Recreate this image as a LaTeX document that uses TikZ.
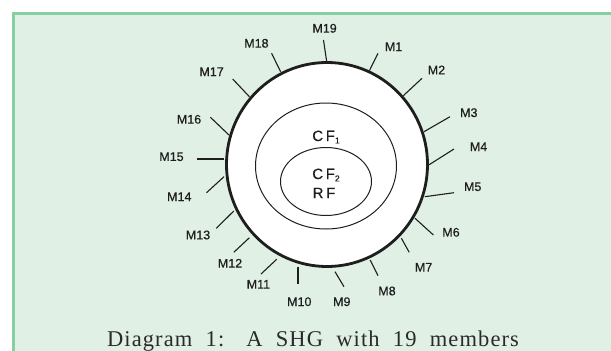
\documentclass[tikz,border=0pt]{standalone}
\usepackage{fontspec}
\setmainfont{Liberation Serif}
\setsansfont{Liberation Sans}
\usetikzlibrary{shapes.geometric}
\definecolor{bgreen}{HTML}{E0F0E5}
\definecolor{bborder}{HTML}{86CFA0}
\definecolor{ink}{HTML}{1E1E1E}
\definecolor{capink}{HTML}{2A2A2A}
\newcommand\sbs[1]{\raisebox{-0.3ex}{\fontsize{8.5}{8.5}\selectfont #1}}
\begin{document}
\begin{tikzpicture}[x=1pt,y=-1pt,
  lbl/.style={font=\sffamily\fontsize{12.5}{12.5}\selectfont\addfontfeature{FakeBold=0.5}, text=ink, inner sep=0pt},
  cftext/.style={font=\sffamily\fontsize{15}{15}\selectfont\addfontfeature{LetterSpace=18,FakeBold=0.5}, text=ink, inner sep=0pt},
  tickline/.style={line width=1.1pt, draw=ink},
  ring/.style={draw=ink, ellipse, inner sep=0pt, fill=white}]
\useasboundingbox (0,0) rectangle (611,351);
\fill[bgreen] (13,13) rectangle (612,352);
\draw[bborder, line width=2.6pt] (13.3,352) -- (13.3,13.3) -- (612,13.3);

\node[ring, line width=2.8pt, minimum width=201pt, minimum height=204pt] (outer) at (327,164.5) {};
\node[ring, line width=1pt, minimum width=141pt, minimum height=126pt] (mid) at (326,166) {};
\node[ring, line width=1pt, minimum width=91pt, minimum height=68pt] (inner) at (326,181.5) {};

\node[cftext] (cf1) at (326,137) {CF\sbs{1}};
\node[cftext] (cf2) at (326,175) {CF\sbs{2}};
\node[cftext] (rf) at (324,193) {RF};

\foreach \n/\ax/\ay/\bx/\by/\lx/\ly in {
  19/326.6/61/323.5/40/324.6/28.3,
  1/369.4/70.7/378/53.3/393.6/46.7,
  2/403.3/95.7/422/78.3/436.5/70,
  3/424/131.7/450/116.7/468.8/112.7,
  4/428.7/165/454/149/478.6/146.7,
  5/424.8/196.7/454/192.7/472.7/186.7,
  6/415/218.3/433.4/235/451/232.3,
  7/401.4/238.3/409.2/252.3/423.6/267.3,
  8/370.2/260/378/275.7/387/291,
  9/335/271.7/344/286.7/341.8/301.7,
  10/298/266.7/298/284.3/299.3/301.7,
  11/276.7/259.3/261/274/258.4/284.3,
  12/249.4/237.7/233.8/252.3/230/263.3,
  13/233.8/211/216.3/228.3/198/235,
  14/224/176.7/206.5/192.7/179.3/196.7,
  15/224/159/196.8/159/171.5/156.7,
  16/229/135/210.4/117.3/189/119.3,
  17/249.4/96.7/232.7/79/211.6/71.7,
  18/280.6/71.7/271.6/53.3/256.4/43.3}{
  \coordinate (a\n) at (\ax,\ay);
  \coordinate (b\n) at (\bx,\by);
  \draw[tickline] (a\n) -- (b\n);
  \node[lbl] (m\n) at (\lx,\ly) {M\n};
}

\node[anchor=base, inner sep=0pt, text=capink, font=\fontsize{22.5}{22.5}\selectfont\addfontfeature{LetterSpace=5}] (cap) at (313,346.5)
  {\makebox[412pt][s]{Diagram 1: A SHG with 19 members}};
\end{tikzpicture}
\end{document}
